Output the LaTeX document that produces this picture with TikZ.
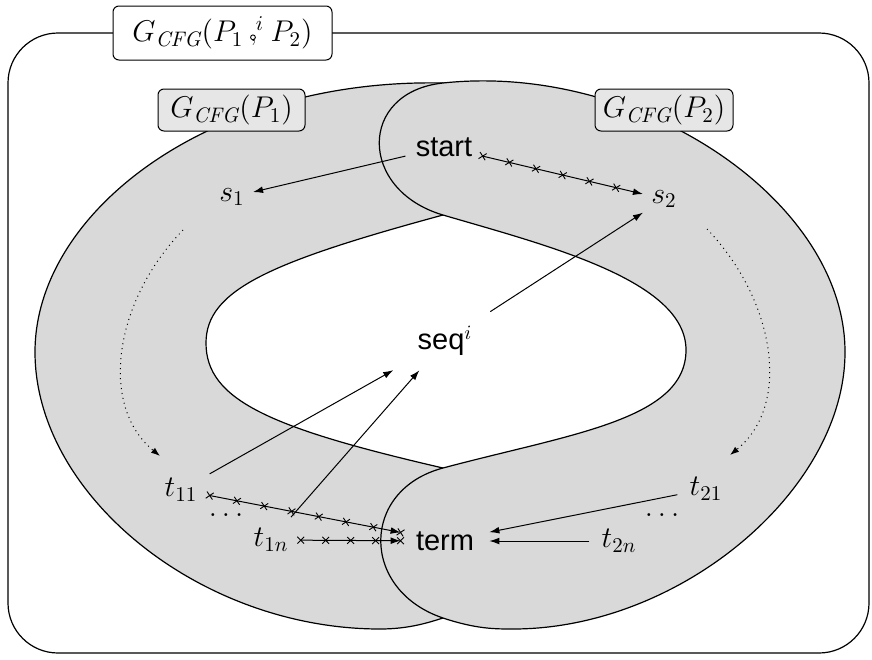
\RequirePackage{fix-cm}
\documentclass[tikz,border=0pt]{standalone}
\usepackage{fontspec}
\newfontfamily\sanslab{Liberation Sans}
\usetikzlibrary{arrows.meta,decorations.markings}
\definecolor{regiongray}{HTML}{D9D9D9}
\definecolor{boxgray}{HTML}{E6E6E6}
\newcommand{\fsemi}{\mathbin{\mbox{\rlap{\kern0.2pt$\scriptstyle,$}\tikz[baseline=0pt,x=1pt,y=1pt]{\draw[line width=0.45pt,solid] (1.6,2.15) circle[radius=1.2];}}}}
\newcommand{\xcrossmark}{\draw[line width=0.45pt,solid,-] (-1.7pt,-1.7pt) -- (1.7pt,1.7pt) (-1.7pt,1.7pt) -- (1.7pt,-1.7pt);}
\tikzset{
  region/.style={fill=regiongray,draw=black,line width=0.6pt},
  lbox/.style={draw,fill=boxgray,rounded corners=3pt,line width=0.5pt,minimum width=73.5pt,minimum height=21pt,inner sep=2pt,font=\fontsize{15}{18}\selectfont},
  tbox/.style={lbox,fill=white,minimum width=109.5pt,minimum height=27pt},
  mlab/.style={font=\fontsize{15}{18}\selectfont,inner xsep=6pt,inner ysep=5.5pt},
  slab/.style={mlab,inner xsep=4pt,inner ysep=4pt},
  wlab/.style={font=\sanslab\fontsize{14.5}{17}\selectfont,inner xsep=5pt,inner ysep=4pt},
  arr/.style={-{Latex[length=5pt,width=3.4pt]},line width=0.5pt},
  xmarks/.style={postaction={decorate,decoration={markings,mark=between positions 0 and 1 step #1 with {\xcrossmark}}}},
  dotarc/.style={dotted,line width=0.5pt,-{Latex[length=4.5pt,width=3.2pt]}}
}
\begin{document}
\begin{tikzpicture}[x=0.5pt,y=-0.5pt]
\useasboundingbox (0,0) rectangle (872,659);
% outer frame
\draw[rounded corners=25pt,line width=0.6pt] (8,33) rectangle (869,653);
\node[tbox] (title) at (222.5,33) {$G_{\mathit{CFG}}(P_1 \fsemi^{i} P_2)$};
% left region (P1); its right ends lie under the P2 region
\draw[region] (470,88) -- (443,83)
  .. controls (210,78) and (35,212) .. (35,352)
  .. controls (35,495) and (200,629) .. (380,629)
  .. controls (410,629) and (430,622) .. (443,618)
  -- (470,612) -- (470,472) -- (443,468)
  .. controls (270,428) and (206,400) .. (206,343)
  .. controls (206,290) and (270,262) .. (443,215)
  -- (470,210) -- cycle;
% right region (P2)
\draw[region] (443,83)
  .. controls (638.5,62) and (845,200) .. (845,352)
  .. controls (845,490) and (680,629) .. (513,629)
  .. controls (495,629) and (476,629) .. (443,618)
  .. controls (360,590) and (360,490) .. (443,468)
  .. controls (570,434) and (686,420) .. (686,350)
  .. controls (686,280) and (545,245) .. (443,215)
  .. controls (358,190) and (358,92) .. (443,83) -- cycle;
% region labels
\node[lbox] (g1) at (231.5,110) {$G_{\mathit{CFG}}(P_1)$};
\node[lbox,minimum width=69pt] (g2) at (664,110) {$G_{\mathit{CFG}}(P_2)$};
% nodes
\node[wlab] (start) at (444,147) {start};
\node[slab] (s1) at (232,197) {$s_1$};
\node[slab] (s2) at (664,199) {$s_2$};
\node[wlab,inner xsep=12pt,inner ysep=7pt] (seq) at (445,341) {seq$^{i}$};
\node[mlab] (t11) at (181,490) {$t_{11}$};
\node[mlab] (t1n) at (271,540) {$t_{1n}$};
\node[wlab,inner xsep=7.5pt] (term) at (445,541) {term};
\node[mlab] (t21) at (706,489) {$t_{21}$};
\node[mlab] (t2n) at (619,541) {$t_{2n}$};
\node[mlab] (dl) at (226,515) {$\dots$};
\node[mlab] (dr) at (662,515) {$\dots$};
% dotted arcs
\coordinate (d1a) at (183,230);
\coordinate (d1b) at (160,456);
\coordinate (d2a) at (707,229);
\coordinate (d2b) at (730,455);
\draw[dotarc] (d1a) .. controls (115,300) and (98,405) .. (d1b);
\draw[dotarc] (d2a) .. controls (775,300) and (792,405) .. (d2b);
% connectors
\draw[arr] (start) -- (s1);
\draw[arr,xmarks=0.166666] (start) -- (s2);
\draw[arr] (seq) -- (s2);
\draw[arr] (t11) -- (seq);
\draw[arr] (t1n) -- (seq);
\draw[arr,xmarks=0.142857] (t11) -- (term);
\draw[arr,xmarks=0.2499] (t1n) -- (term);
\draw[arr] (t21) -- (term);
\draw[arr] (t2n) -- (term);
\end{tikzpicture}
\end{document}
